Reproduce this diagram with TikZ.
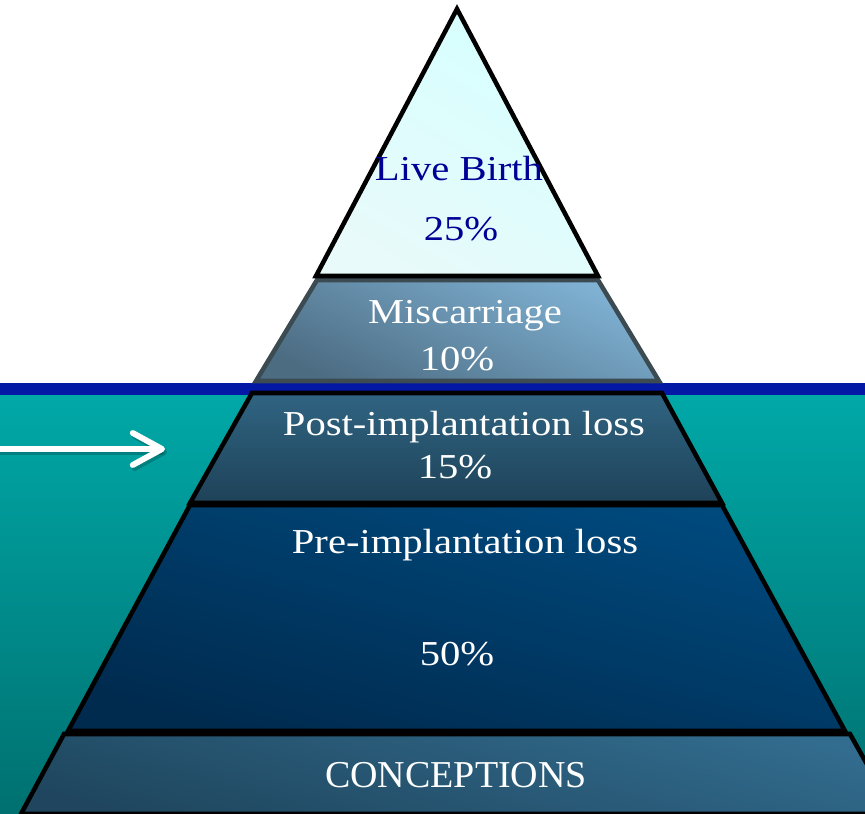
\documentclass[tikz,border=0pt]{standalone}
\usepackage{fontspec}
\setmainfont{Liberation Serif}[FakeStretch=1.16]
\newfontfamily\capsfont{Liberation Serif}
\usetikzlibrary{arrows.meta}

\definecolor{seatop}{RGB}{0,169,168}
\definecolor{seabottom}{RGB}{0,112,112}
\definecolor{waterline}{RGB}{4,24,166}
\definecolor{birthtop}{RGB}{214,255,255}
\definecolor{birthbottom}{RGB}{232,250,250}
\definecolor{birthtext}{RGB}{0,0,150}
\definecolor{misctop}{RGB}{128,178,212}
\definecolor{miscbottom}{RGB}{76,108,130}
\definecolor{miscedge}{RGB}{60,74,82}
\definecolor{posttop}{RGB}{48,100,130}
\definecolor{postbottom}{RGB}{30,66,88}
\definecolor{pretop}{RGB}{0,74,126}
\definecolor{prebottom}{RGB}{0,42,78}
\definecolor{concepttop}{RGB}{50,108,142}
\definecolor{conceptbottom}{RGB}{31,70,94}

\tikzset{every picture/.style={line width=0.75pt}}
\tikzset{
  layer/.style={draw=black,line width=3.4pt,line join=miter},
  label/.style={anchor=base,inner sep=0.75pt,text=white,font=\fontsize{26.25}{30}\selectfont},
  pointer/.style={draw=white,line width=4.4pt,line cap=round,-{Straight Barb[length=22pt,width=24pt,round]}}
}

\begin{document}
\begin{tikzpicture}[x=0.75pt,y=0.75pt,yscale=-1,xscale=1]
\useasboundingbox (0,0) rectangle (865,814);
\clip (0,0) rectangle (865,814);

%Shape: Sea
\shade [top color=seatop,bottom color=seabottom] (0,389) rectangle (865,814);
%Shape: Water line
\fill [waterline] (0,383) rectangle (865,395);

%Shape: Conceptions
\draw [layer,top color=concepttop,bottom color=conceptbottom,shading angle=-15] (64,734) -- (850,734) -- (895,814) -- (21,814) -- cycle ;
%Shape: Pre-implantation
\draw [layer,top color=pretop,bottom color=prebottom,shading angle=-15] (190,505) -- (722,505) -- (845,731) -- (68,731) -- cycle ;
%Shape: Post-implantation
\draw [layer,top color=posttop,bottom color=postbottom] (252,393) -- (662,393) -- (722,503) -- (190,503) -- cycle ;
%Shape: Miscarriage
\draw [layer,draw=miscedge,top color=misctop,bottom color=miscbottom,shading angle=-25] (317,280) -- (598,280) -- (659,381) -- (256,381) -- cycle ;
%Shape: Live birth
\draw [layer,top color=birthtop,bottom color=birthbottom,shading angle=-30] (457,9) -- (598,276) -- (316,276) -- cycle ;

%Shape: Arrow
\coordinate (tail) at (-10,449);
\coordinate (head) at (165,449);
\draw [pointer,draw=black,opacity=0.2] ([shift={(2,3)}]tail) -- ([shift={(2,3)}]head) ;
\draw [pointer] (tail) -- (head) ;

% Text Node
\node [label,text=birthtext] (birth) at (459,180) {Live Birth};
% Text Node
\node [label,text=birthtext] (birthpct) at (461,240) {25\%};
% Text Node
\node [label] (misc) at (465,323) {Miscarriage};
% Text Node
\node [label] (miscpct) at (457,370) {10\%};
% Text Node
\node [label] (post) at (464,435) {Post-implantation loss};
% Text Node
\node [label] (postpct) at (455,478) {15\%};
% Text Node
\node [label] (pre) at (465,553) {Pre-implantation loss};
% Text Node
\node [label] (prepct) at (457,665) {50\%};
% Text Node
\node [label,font=\capsfont\fontsize{28.5}{32}\selectfont] (concept) at (456,787) {CONCEPTIONS};

\end{tikzpicture}
\end{document}
